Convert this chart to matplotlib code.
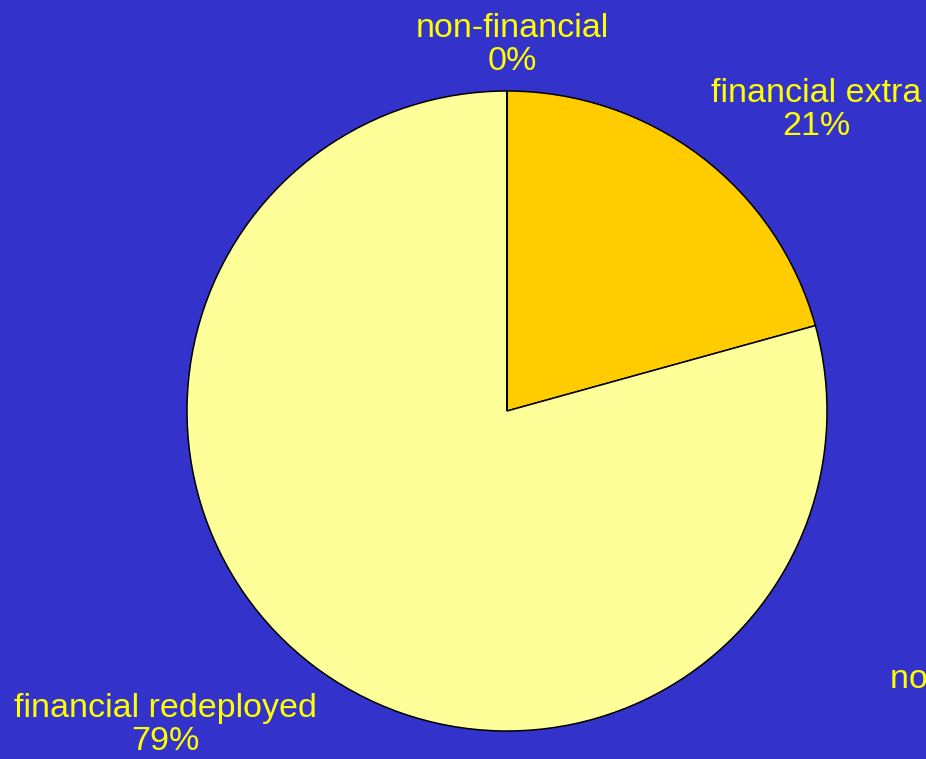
import matplotlib
matplotlib.use("Agg")
import matplotlib.pyplot as plt

categories = ["financial extra", "financial redeployed", "non-financial", "non-financial extra"]
values = [20.7, 79.3, 0.0, 0.0]
colors = ["#FFCC00", "#FFFF99", "#FFFFCC", "#FF9900"]

# label anchor positions (in units of the pie radius), as laid out in the source
label_pos = {
    "financial extra": (0.966, 0.941, "center"),
    "financial redeployed": (-1.066, -0.981, "center"),
    "non-financial": (0.016, 1.144, "center"),
    "non-financial extra": (1.197, -0.89, "left"),
}

plt.rcParams['font.family'] = ['Liberation Sans', 'DejaVu Sans']

fig = plt.figure(figsize=(9.26, 7.59), dpi=100)
fig.patch.set_facecolor("#3333CC")
ax = fig.add_axes([0, 0, 1, 1])
ax.set_facecolor("#3333CC")

ax.pie(values, colors=colors, startangle=90, counterclock=False, radius=1.0,
       wedgeprops=dict(edgecolor="black", linewidth=1.1))

total = sum(values)
for cat, v in zip(categories, values):
    x, y, ha = label_pos[cat]
    ax.text(x, y, f"{cat}\n{v / total * 100:.0f}%", ha=ha, va="center",
            multialignment="center", color="#FFFF00", fontsize=24.5,
            linespacing=1.1)

ax.set_xlim(-507 / 320, (926 - 507) / 320)
ax.set_ylim(-(759 - 411) / 320, 411 / 320)
ax.set_aspect("equal")
ax.axis("off")

fig.savefig("out.png", dpi=100, facecolor=fig.get_facecolor())
